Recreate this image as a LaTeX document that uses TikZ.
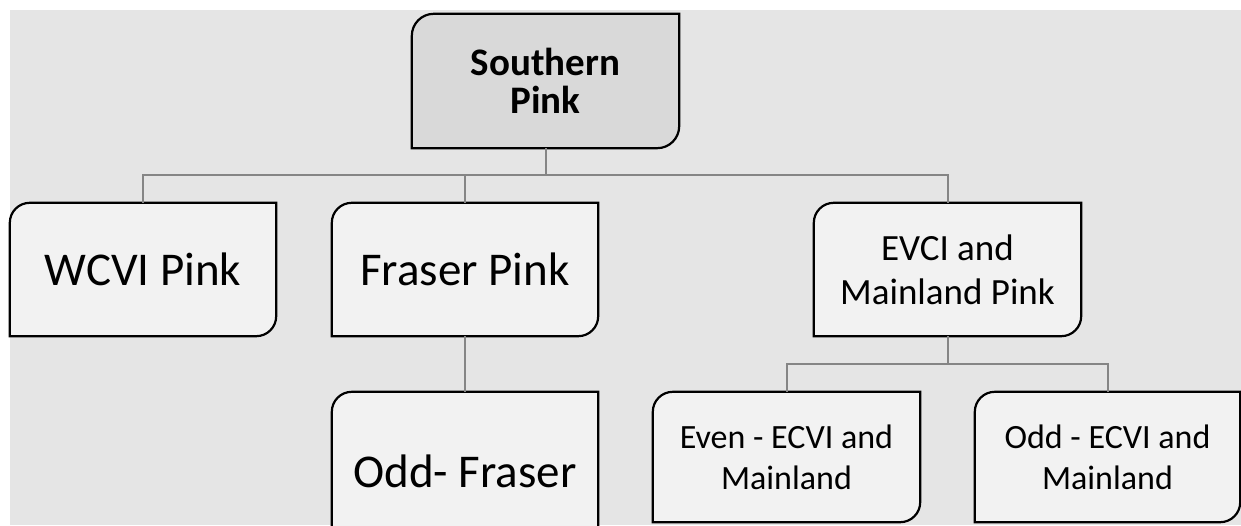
\documentclass[tikz,border=0pt]{standalone}
\usepackage{fontspec}
\setmainfont{Carlito}
\usepackage{xcolor}
\usetikzlibrary{backgrounds}
\definecolor{bggray}{HTML}{E5E5E5}
\definecolor{topfill}{HTML}{D9D9D9}
\definecolor{boxfill}{HTML}{F2F2F2}
\definecolor{linkgray}{HTML}{858585}

\begin{document}
\begin{tikzpicture}[x=1pt,y=1pt,
  pinkbox/.style={align=center,font=\fontsize{47}{52}\selectfont,
    minimum width=266pt,minimum height=133pt,inner sep=0pt},
  subbox/.style={pinkbox,font=\fontsize{34}{41}\selectfont,minimum height=130pt},
  link/.style={draw=linkgray,line width=2pt},
  outline/.style={draw=black,line width=2.2pt}]
\useasboundingbox (0,0) rectangle (1241,525);

\node[pinkbox,minimum width=267pt,minimum height=134pt,
  font=\bfseries\fontsize{39}{38}\selectfont] (south) at (545.5,444) {Southern\\Pink};
\node[pinkbox] (wcvi) at (143,255.5) {WCVI Pink};
\node[pinkbox] (fraser) at (465,255.5) {Fraser Pink};
\node[pinkbox,minimum width=267pt,font=\fontsize{37}{44}\selectfont] (evci) at (947.5,255.5) {EVCI and\\Mainland Pink};
\node[pinkbox,minimum height=158pt] (oddfr) at (465,54) {Odd- Fraser};
\node[subbox,minimum width=267pt] (even) at (786.5,68) {Even - ECVI and\\Mainland};
\node[subbox,minimum width=265pt] (odd) at (1107.5,68) {Odd - ECVI and\\Mainland};

% bus lines
\coordinate (bus1) at (0,350);
\coordinate (bus2) at (0,161);

\begin{scope}[on background layer]
\fill[bggray] (10,0) rectangle (1241,515);
\foreach \n/\c/\r in {south/topfill/22,wcvi/boxfill/20,fraser/boxfill/20,evci/boxfill/20,
  oddfr/boxfill/20,even/boxfill/20,odd/boxfill/20}{
  \draw[outline,fill=\c] ([yshift=-\r pt]\n.north west) arc[start angle=180,end angle=90,radius=\r pt]
    -- (\n.north east) -- ([yshift=\r pt]\n.south east) arc[start angle=0,end angle=-90,radius=\r pt]
    -- (\n.south west) -- cycle;
}
\end{scope}

\draw[link] (south.south) -- (south.south |- bus1);
\draw[link] (wcvi.north) |- (evci.north |- bus1) -- (evci.north);
\draw[link] (fraser.north) -- (fraser.north |- bus1);
\draw[link] (fraser.south) -- (oddfr.north);
\draw[link] (evci.south) -- (evci.south |- bus2);
\draw[link] (even.north) |- (odd.north |- bus2) -- (odd.north);
\end{tikzpicture}
\end{document}
